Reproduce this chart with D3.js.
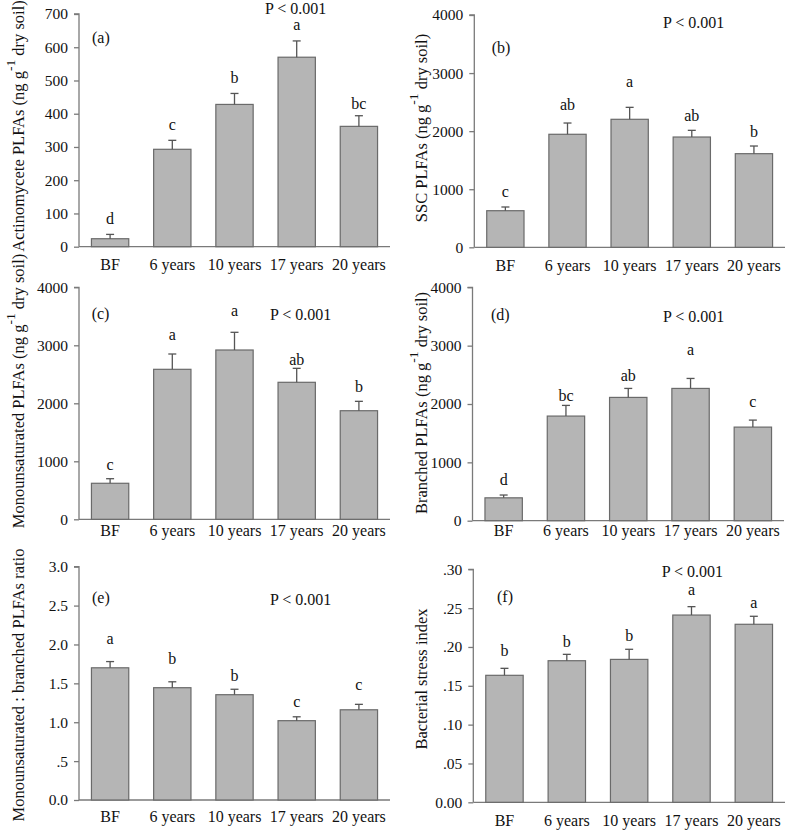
<!DOCTYPE html>
<html><head><meta charset="utf-8">
<script src="https://cdnjs.cloudflare.com/ajax/libs/d3/7.8.5/d3.min.js"></script>
<style>
html,body{margin:0;padding:0;background:#fff;}
svg text{font-family:"Liberation Serif","Times New Roman",serif;fill:#111;}
</style></head>
<body>
<svg id="chart" width="787" height="832"></svg>
<script>
// ---------- data ----------
const categories = ["BF", "6 years", "10 years", "17 years", "20 years"];

const actinoMean = [24, 293, 428, 570, 362];
const actinoErr  = [13, 27, 33, 49, 32];
const actinoLetters = ["d", "c", "b", "a", "bc"];
const actinoTicks = [0, 100, 200, 300, 400, 500, 600, 700];

const sscMean = [630, 1946, 2204, 1899, 1612];
const sscErr  = [64, 194, 206, 115, 132];
const sscLetters = ["c", "ab", "a", "ab", "b"];

const monoMean = [621, 2586, 2919, 2362, 1872];
const monoErr  = [79, 264, 305, 241, 162];
const monoLetters = ["c", "a", "a", "ab", "b"];

const branchMean = [392, 1793, 2113, 2267, 1604];
const branchErr  = [48, 183, 154, 171, 120];
const branchLetters = ["d", "bc", "ab", "a", "c"];

const thousandTicks = [0, 1000, 2000, 3000, 4000];

const ratioMean = [1.70, 1.444, 1.354, 1.02, 1.16];
const ratioErr  = [0.08, 0.076, 0.07, 0.05, 0.07];
const ratioLetters = ["a", "b", "b", "c", "c"];
const ratioTicks = [0, 0.5, 1.0, 1.5, 2.0, 2.5, 3.0];
const ratioTickLabels = ["0.0", ".5", "1.0", "1.5", "2.0", "2.5", "3.0"];

const stressMean = [0.1635, 0.1823, 0.184, 0.2411, 0.2292];
const stressErr  = [0.009, 0.0082, 0.013, 0.0108, 0.0103];
const stressLetters = ["b", "b", "b", "a", "a"];
const stressTicks = [0, 0.05, 0.10, 0.15, 0.20, 0.25, 0.30];
const stressTickLabels = ["0.00", ".05", ".10", ".15", ".20", ".25", ".30"];

const pText = "P < 0.001";

// ---------- layout (pixels) ----------
const panels = [
  {id:"(a)", mean:actinoMean, err:actinoErr, letters:actinoLetters, domain:[0,700], ticks:actinoTicks, fmt:d=>String(d),
   x0:79, x1:390, yTop:14, yBot:246.7, labelPos:[92,43.3], pPos:[265,13.5], xlabOff:24,
   ylab:["Actinomycete PLFAs (ng g","-1"," dry soil)"], ylabX:20, ylabY:126, gaps:[10,10,10,11,7]},
  {id:"(b)", mean:sscMean, err:sscErr, letters:sscLetters, domain:[0,4000], ticks:thousandTicks, fmt:d=>String(d),
   x0:474.3, x1:785, yTop:15, yBot:247.3, labelPos:[491.7,53.3], pPos:[663,28], xlabOff:24,
   ylab:["SSC PLFAs (ng g","-1"," dry soil)"], ylabX:423, ylabY:128, gaps:[10,13,20,9,9]},
  {id:"(c)", mean:monoMean, err:monoErr, letters:monoLetters, domain:[0,4000], ticks:thousandTicks, fmt:d=>String(d),
   x0:79, x1:390, yTop:287.3, yBot:519.3, labelPos:[91.7,319], pPos:[270,320], xlabOff:17,
   ylab:["Monounsaturated PLFAs (ng g","-1"," dry soil)"], ylabX:20, ylabY:391, gaps:[9,14,16,3,9]},
  {id:"(d)", mean:branchMean, err:branchErr, letters:branchLetters, domain:[0,4000], ticks:thousandTicks, fmt:d=>String(d),
   x0:472.5, x1:784, yTop:287.3, yBot:520.7, labelPos:[491,320], pPos:[663,321.7], xlabOff:16,
   ylab:["Branched PLFAs (ng g","-1"," dry soil)"], ylabX:423, ylabY:403, gaps:[10,4,7,23,13]},
  {id:"(e)", mean:ratioMean, err:ratioErr, letters:ratioLetters, domain:[0,3], ticks:ratioTicks, fmt:(d,i)=>ratioTickLabels[i],
   x0:79, x1:390, yTop:566.7, yBot:800, labelPos:[92,603], pPos:[270,605], xlabOff:23,
   ylab:["Monounsaturated : branched PLFAs ratio"], ylabX:20, ylabY:685, gaps:[18,18,8,10,14]},
  {id:"(f)", mean:stressMean, err:stressErr, letters:stressLetters, domain:[0,0.3], ticks:stressTicks, fmt:(d,i)=>stressTickLabels[i],
   x0:473.3, x1:785, yTop:569.3, yBot:802.3, labelPos:[497,601.7], pPos:[661.7,577], xlabOff:24,
   ylab:["Bacterial stress index"], ylabX:423, ylabY:679, gaps:[12,7,8,12,8]}
];

const svg = d3.select("#chart");
const axisColor = "#7a7a7a";

panels.forEach(p => {
  const g = svg.append("g");
  const x = d3.scaleBand().domain(categories).range([p.x0, p.x1]).paddingInner(0.4).paddingOuter(0.2);
  const y = d3.scaleLinear().domain(p.domain).range([p.yBot, p.yTop]);

  // y axis
  const yAxis = d3.axisLeft(y).tickValues(p.ticks).tickSize(5).tickPadding(6)
    .tickFormat((d) => p.fmt(d, p.ticks.indexOf(d)));
  const ya = g.append("g").attr("transform", `translate(${p.x0},0)`).call(yAxis);
  ya.select(".domain").attr("stroke", axisColor).attr("stroke-width", 1.3).attr("d", `M-5,${p.yTop}H0V${p.yBot}`);
  ya.selectAll(".tick line").attr("stroke", axisColor).attr("stroke-width", 1.3);
  ya.selectAll(".tick text").attr("font-size", 15.5).attr("fill", "#111")
    .style("font-family", '"Liberation Serif", serif');

  // x axis
  const xAxis = d3.axisBottom(x).tickSize(0).tickPadding(p.xlabOff - 12);
  const xa = g.append("g").attr("transform", `translate(0,${p.yBot})`).call(xAxis);
  xa.select(".domain").attr("stroke", axisColor).attr("stroke-width", 1.3).attr("d", `M${p.x0},0H${p.x1}`);
  xa.selectAll(".tick text").attr("font-size", 16).attr("fill", "#111")
    .style("font-family", '"Liberation Serif", serif').attr("dy", "0.71em");

  // bars
  g.selectAll("rect.bar").data(p.mean).enter().append("rect")
    .attr("x", (d, i) => x(categories[i]))
    .attr("y", d => y(d))
    .attr("width", x.bandwidth())
    .attr("height", d => y(p.domain[0]) - y(d))
    .attr("fill", "#b5b5b5").attr("stroke", "#6a6a6a").attr("stroke-width", 1.2);

  // error bars (upper only)
  const eg = g.append("g").attr("stroke", "#555").attr("stroke-width", 1.3);
  p.mean.forEach((m, i) => {
    const cx = x(categories[i]) + x.bandwidth() / 2;
    eg.append("line").attr("x1", cx).attr("x2", cx).attr("y1", y(m)).attr("y2", y(m + p.err[i]));
    eg.append("line").attr("x1", cx - 4).attr("x2", cx + 4).attr("y1", y(m + p.err[i])).attr("y2", y(m + p.err[i]));
  });

  // significance letters
  g.selectAll("text.letter").data(p.letters).enter().append("text")
    .attr("x", (d, i) => x(categories[i]) + x.bandwidth() / 2)
    .attr("y", (d, i) => y(p.mean[i] + p.err[i]) - p.gaps[i])
    .attr("text-anchor", "middle").attr("font-size", 16).text(d => d);

  // panel label
  g.append("text").attr("x", p.labelPos[0]).attr("y", p.labelPos[1]).attr("font-size", 16).text(p.id);
  // P value
  g.append("text").attr("x", p.pPos[0]).attr("y", p.pPos[1]).attr("font-size", 16).text(pText);

  // y label
  const t = g.append("text").attr("transform", `translate(${p.ylabX},${p.ylabY}) rotate(-90)`)
    .attr("text-anchor", "middle").attr("dominant-baseline", "middle").attr("font-size", 16.5);
  if (p.ylab.length === 3) {
    t.append("tspan").text(p.ylab[0]);
    t.append("tspan").attr("dy", -8).attr("font-size", 13.5).text(p.ylab[1]);
    t.append("tspan").attr("dy", 8).text(p.ylab[2]);
  } else {
    t.text(p.ylab[0]);
  }
});
</script>
</body></html>
